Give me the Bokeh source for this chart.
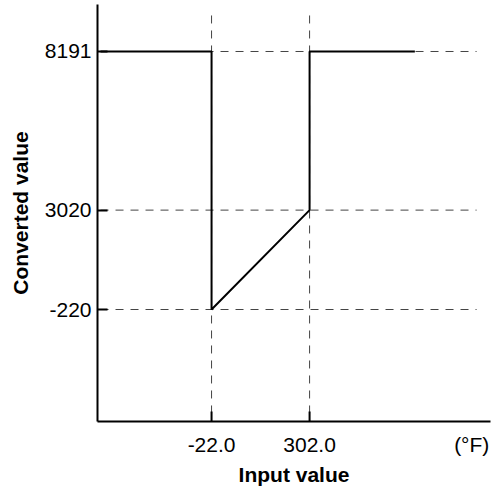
import math
from bokeh.plotting import figure
from bokeh.models import FixedTicker
from bokeh.embed import file_html
from bokeh.resources import INLINE

# ---- data ----
x_ticks = [-22.0, 302.0]
x_tick_labels = ["-22.0", "302.0"]
y_ticks = [-220, 3020, 8191]
y_tick_labels = ["-220", "3020", "8191"]

line_x = [-389, -22, -22, 302, 302, 650]
line_y = [8191, 8191, -220, 3020, 8191, 8191]

# extents of the dashed guide lines
guide_x_start, guide_x_end = -389, 854
guide_y_top = 9365

X_START, X_END = -399, 900
Y_START, Y_END = -3871, 9723

unit_label = "(°F)"
unit_pos = 838.0
x_title = "Input value"
y_title = "Converted value"

FONT = "Liberation Sans"
FS = "21px"

p = figure(width=491, height=489, x_range=(X_START, X_END), y_range=(Y_START, Y_END),
           output_backend="svg", toolbar_location=None,
           min_border_left=97, min_border_right=1, min_border_top=4, min_border_bottom=68)
p.outline_line_color = None
p.xgrid.visible = False
p.ygrid.visible = False
p.background_fill_color = "white"
p.border_fill_color = "white"

# dashed guides
p.segment(x0=[guide_x_start] * len(y_ticks), x1=[guide_x_end] * len(y_ticks),
          y0=y_ticks, y1=y_ticks, line_color="#444444", line_width=1, line_dash="8 7")
p.segment(x0=x_ticks, x1=x_ticks, y0=[guide_y_top] * len(x_ticks), y1=[Y_START] * len(x_ticks),
          line_color="#444444", line_width=1, line_dash="8 7")

# characteristic line
p.line(line_x, line_y, line_color="black", line_width=2)

# inward x tick marks (half of the dash is clipped below the frame)
p.scatter(x=x_ticks, y=[Y_START] * len(x_ticks), marker="dash", size=20,
          angle=math.pi / 2, line_color="black", line_width=2)

for ax in (p.xaxis[0], p.yaxis[0]):
    ax.axis_line_width = 2
    ax.axis_line_color = "black"
    ax.major_tick_in = 10
    ax.major_tick_out = 0
    ax.major_tick_line_width = 2
    ax.major_tick_line_color = "black"
    ax.minor_tick_line_color = None
    ax.major_label_text_font = FONT
    ax.major_label_text_font_size = FS
    ax.major_label_text_color = "black"
    ax.axis_label_text_font = FONT
    ax.axis_label_text_font_size = FS
    ax.axis_label_text_font_style = "bold"
    ax.axis_label_text_color = "black"

xa = p.xaxis[0]
xa.ticker = FixedTicker(ticks=x_ticks + [unit_pos])
overrides = {t: l for t, l in zip(x_ticks, x_tick_labels)}
overrides[unit_pos] = unit_label
xa.major_label_overrides = overrides
xa.major_tick_in = 0
xa.major_label_standoff = 11
xa.axis_label = x_title
xa.axis_label_standoff = 4

ya = p.yaxis[0]
ya.ticker = FixedTicker(ticks=y_ticks)
ya.major_label_overrides = {t: l for t, l in zip(y_ticks, y_tick_labels)}
ya.major_label_standoff = 6
ya.axis_label = y_title
ya.axis_label_standoff = 10

open("out.html", "w").write(file_html(p, INLINE))
